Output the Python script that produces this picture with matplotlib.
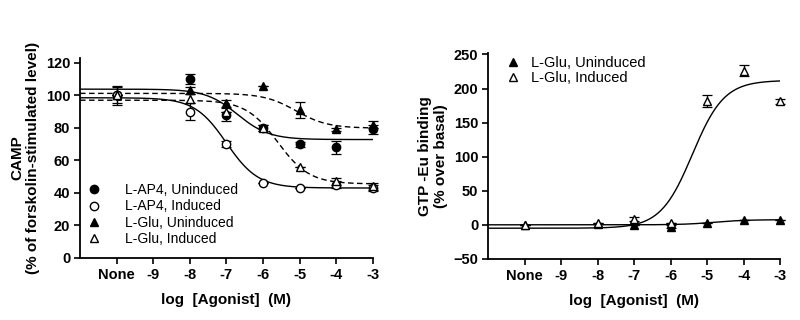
import numpy as np
import matplotlib
matplotlib.use("Agg")
import matplotlib.pyplot as plt
from matplotlib.lines import Line2D

plt.rcParams['font.family'] = ['Liberation Sans', 'DejaVu Sans']

# x positions: "None" is plotted at -10
x_pos = [-10, -8, -7, -6, -5, -4, -3]
x_ticks = [-10, -9, -8, -7, -6, -5, -4, -3]
x_ticklabels = ["None", "-9", "-8", "-7", "-6", "-5", "-4", "-3"]

# --- left panel: cAMP ---
ap4_unind = [100, 110, 88, 80, 70, 68, 79]
ap4_unind_err = [0, 3, 4, 2, 1.5, 4, 3]
ap4_ind = [100, 90, 70, 46, 43, 45, 43]
ap4_ind_err = [5, 5, 2, 0, 0, 2, 2]
glu_unind = [100, 103, 95, 106, 91, 79, 82]
glu_unind_err = [0, 2, 2, 0, 5, 1, 2]
glu_ind = [100, 98, 90, 80, 56, 47, 44]
glu_ind_err = [6, 3, 0, 2, 0, 2, 2]

# fit params: top, bottom, logEC50, hill
fit_ap4_unind = [103.8, 72.8, -6.7, 1.0]
fit_ap4_ind = [98.5, 43.0, -7.0, 1.0]
fit_glu_unind = [101.2, 79.8, -5.1, 1.0]
fit_glu_ind = [97.0, 45.5, -5.6, 1.0]

# --- right panel: GTP-Eu binding ---
gtp_unind = [0, 1, 0, -3, 3, 7, 7]
gtp_unind_err = [0, 0, 0, 2, 0, 0, 0]
gtp_ind = [0, 2, 8, 2, 182, 226, 181]
gtp_ind_err = [0, 0, 3, 0, 9, 8, 3]

fit_gtp_unind = [0.0, 7.5, -4.8, 1.0]
fit_gtp_ind = [-5.0, 212.0, -5.4, 1.0]


def curve(p, x):
    a, b, ec, h = p
    return b + (a - b) / (1 + 10 ** ((x - ec) * h))


xx = np.linspace(-11, -3, 300)

fig = plt.figure(figsize=(8, 3.2), dpi=100)
ax1 = fig.add_axes([0.1, 0.194, 0.366, 0.625])
ax2 = fig.add_axes([0.61, 0.191, 0.365, 0.643])

ms = 6
eb = dict(capsize=3.5, elinewidth=0.9, capthick=0.9, ls='none', clip_on=False)

def style(ax):
    ax.set_xlim(-11, -3)
    ax.set_xticks(x_ticks)
    ax.set_xticklabels(x_ticklabels)
    for s in ['top', 'right']:
        ax.spines[s].set_visible(False)
    for s in ['left', 'bottom']:
        ax.spines[s].set_linewidth(1.3)
    ax.tick_params(direction='out', length=4, width=1.2, labelsize=10.5, pad=3)
    for lab in ax.get_xticklabels() + ax.get_yticklabels():
        lab.set_fontweight('bold')
    ax.set_xlabel("log  [Agonist]  (M)", fontsize=11, fontweight='bold', labelpad=8)

# left
ax1.plot(xx, curve(fit_ap4_unind, xx), 'k-', lw=1)
ax1.plot(xx, curve(fit_ap4_ind, xx), 'k-', lw=1)
ax1.plot(xx, curve(fit_glu_unind, xx), 'k--', lw=1, dashes=(4, 2.5))
ax1.plot(xx, curve(fit_glu_ind, xx), 'k--', lw=1, dashes=(4, 2.5))
ax1.errorbar(x_pos, ap4_unind, yerr=ap4_unind_err, marker='o', ms=ms, mfc='k', mec='k', color='k', **eb)
ax1.errorbar(x_pos, ap4_ind, yerr=ap4_ind_err, marker='o', ms=ms, mfc='white', mec='k', color='k', **eb)
ax1.errorbar(x_pos, glu_unind, yerr=glu_unind_err, marker='^', ms=ms, mfc='k', mec='k', color='k', **eb)
ax1.errorbar(x_pos, glu_ind, yerr=glu_ind_err, marker='^', ms=ms, mfc='white', mec='k', color='k', **eb)
ax1.set_ylim(0, 123)
ax1.set_yticks([0, 20, 40, 60, 80, 100, 120])
style(ax1)
ax1.set_ylabel("CAMP\n(% of forskolin-stimulated level)", fontsize=11, fontweight='bold', labelpad=4)

h1 = [Line2D([], [], ls='none', marker='o', ms=ms, mfc='k', mec='k'),
      Line2D([], [], ls='none', marker='o', ms=ms, mfc='white', mec='k'),
      Line2D([], [], ls='none', marker='^', ms=ms, mfc='k', mec='k'),
      Line2D([], [], ls='none', marker='^', ms=ms, mfc='white', mec='k')]
ax1.legend(h1, ["L-AP4, Uninduced", "L-AP4, Induced", "L-Glu, Uninduced", "L-Glu, Induced"],
           loc='lower left', bbox_to_anchor=(-0.027, 0.02), frameon=False, fontsize=10,
           handletextpad=1.2, labelspacing=0.15, borderaxespad=0.2)

# right
ax2.plot(xx, curve(fit_gtp_unind, xx), 'k-', lw=1)
ax2.plot(xx, curve(fit_gtp_ind, xx), 'k-', lw=1)
ax2.errorbar(x_pos, gtp_unind, yerr=gtp_unind_err, marker='^', ms=ms, mfc='k', mec='k', color='k', **eb)
ax2.errorbar(x_pos, gtp_ind, yerr=gtp_ind_err, marker='^', ms=ms, mfc='white', mec='k', color='k', **eb)
ax2.set_ylim(-50, 252)
ax2.set_yticks([-50, 0, 50, 100, 150, 200, 250])
style(ax2)
ax2.set_ylabel("GTP -Eu binding\n(% over basal)", fontsize=11, fontweight='bold', labelpad=4)
h2 = [Line2D([], [], ls='none', marker='^', ms=ms, mfc='k', mec='k'),
      Line2D([], [], ls='none', marker='^', ms=ms, mfc='white', mec='k')]
ax2.legend(h2, ["L-Glu, Uninduced", "L-Glu, Induced"], loc='upper left',
           bbox_to_anchor=(0.016, 1.05), frameon=False, fontsize=10.5,
           handlelength=1.0, handletextpad=0.7, labelspacing=0.1)

fig.savefig("out.png", dpi=100)
